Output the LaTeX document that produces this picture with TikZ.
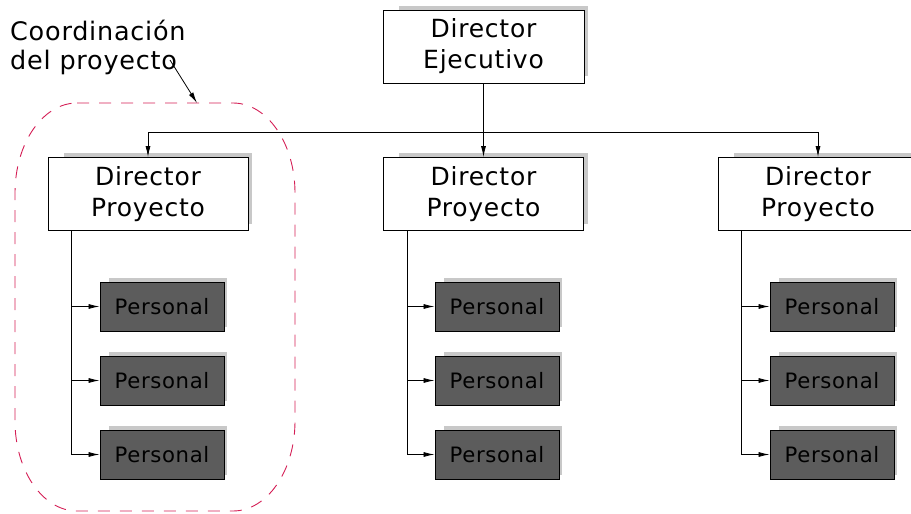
\documentclass[tikz,border=0pt]{standalone}
\usepackage{fontspec}
\setmainfont{DejaVu Sans}[LetterSpace=3]
\usetikzlibrary{arrows.meta,calc,backgrounds}
\definecolor{shadowgray}{HTML}{C8C8C8}
\definecolor{persfill}{HTML}{5C5C5C}
\definecolor{dashred}{HTML}{D41E55}
\tikzset{
  dirbox/.style={draw=black, fill=white, line width=0.9pt, minimum width=200pt, minimum height=73pt, inner sep=0pt, align=center, font=\fontsize{25}{31}\selectfont},
  persbox/.style={draw=black, fill=persfill, line width=0.9pt, minimum width=124pt, minimum height=49pt, inner sep=0pt, font=\fontsize{21.2}{26}\selectfont},
  conn/.style={line width=0.8pt, draw=black},
  tip/.style={conn, -{Latex[length=11pt,width=5pt]}},
  groupline/.style={draw=dashred, line width=0.9pt, dash pattern=on 12pt off 10pt}
}
\begin{document}
\begin{tikzpicture}[x=1pt,y=-1pt]
\useasboundingbox (0,0) rectangle (911,514);
\clip (0,0) rectangle (911,514);
% top node
\node[dirbox, minimum width=201pt] (ej) at (483.5,46.5) {Director\\Ejecutivo};
% project directors
\node[dirbox] (dp1) at (148,194) {Director\\Proyecto};
\node[dirbox] (dp2) at (483.5,194) {Director\\Proyecto};
\node[dirbox] (dp3) at (818,194) {Director\\Proyecto};
% personal boxes
\foreach \c/\x in {1/162,2/497,3/832}{
  \node[persbox] (p\c a) at (\x,306.5) {Personal};
  \node[persbox] (p\c b) at (\x,380.5) {Personal};
  \node[persbox] (p\c c) at (\x,454.5) {Personal};
}
% shadows
\begin{scope}[on background layer]
  \fill[shadowgray] ($(ej.north west)+(16,-4)$) rectangle ($(ej.south east)+(4,-7)$);
  \foreach \n in {dp1,dp2,dp3}{
    \fill[shadowgray] ($(\n.north west)+(16,-4)$) rectangle ($(\n.south east)+(4,-7)$);
  }
  \foreach \c in {1,2,3}{
    \foreach \r in {a,b,c}{
      \fill[shadowgray] ($(p\c\r.north west)+(9,-4)$) rectangle ($(p\c\r.south east)+(3,-4)$);
    }
  }
\end{scope}
% top connectors
\coordinate (hub) at (483.5,132);
\draw[tip] (ej.south) -- (dp2.north);
\draw[conn] (dp1.north |- hub) -- (dp3.north |- hub);
\draw[tip] (dp1.north |- hub) -- (dp1.north);
\draw[tip] (dp3.north |- hub) -- (dp3.north);
% spine connectors
\foreach \c in {1,2,3}{
  \coordinate (s\c) at ($(dp\c.south west)+(24,0)$);
  \draw[conn] (s\c) -- (s\c |- p\c c.west);
  \foreach \r in {a,b,c}{
    \draw[tip] (s\c |- p\c\r.west) -- (p\c\r.west);
  }
}
% grouping outline (elliptic corners, rx=62, ry=90)
\draw[groupline] (77,103) -- (233,103)
  .. controls (267,103) and (295,143) .. (295,193) -- (295,421)
  .. controls (295,471) and (267,511) .. (233,511) -- (77,511)
  .. controls (43,511) and (15,471) .. (15,421) -- (15,193)
  .. controls (15,143) and (43,103) .. (77,103) -- cycle;
% label
\node[anchor=north west, inner sep=0pt, align=left, font=\fontsize{25.5}{29}\selectfont] (lbl) at (10,20) {Coordinación\\del proyecto};
\coordinate (lblpt) at (170,60);
\coordinate (grouptop) at (197,103);
\draw[line width=0.8pt, -{Latex[length=11pt,width=5pt]}] (lblpt) -- (grouptop);
\end{tikzpicture}
\end{document}
